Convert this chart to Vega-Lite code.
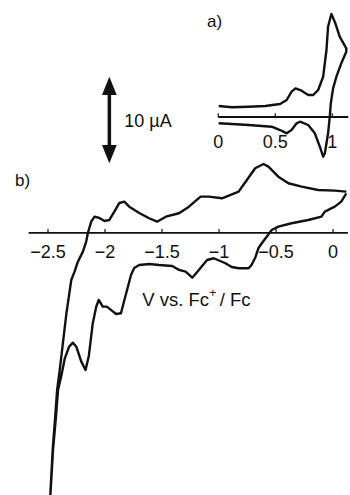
{
  "$schema": "https://vega.github.io/schema/vega-lite/v6.json",
  "width": 350,
  "height": 495,
  "autosize": {"type": "fit", "contains": "padding"},
  "padding": 0,
  "background": "white",
  "config": {"view": {"stroke": null}, "text": {"font": "Liberation Sans", "fontSize": 18, "color": "#111"}},
  "datasets": {
    "main": [
      {"i":1,"v":0.116,"cur":4.616},{"i":2,"v":0.072,"cur":3.640},{"i":3,"v":0.015,"cur":3.058},{"i":4,"v":-0.072,"cur":2.477},
      {"i":5,"v":-0.102,"cur":1.895},{"i":6,"v":-0.218,"cur":1.512},{"i":7,"v":-0.364,"cur":1.128},{"i":8,"v":-0.480,"cur":0.733},
      {"i":9,"v":-0.538,"cur":0.349},{"i":10,"v":-0.582,"cur":-0.430},{"i":11,"v":-0.625,"cur":-1.198},{"i":12,"v":-0.654,"cur":-1.744},
      {"i":13,"v":-0.680,"cur":-2.791},{"i":14,"v":-0.715,"cur":-3.721},{"i":15,"v":-0.741,"cur":-4.105},{"i":16,"v":-0.828,"cur":-4.105},
      {"i":17,"v":-0.889,"cur":-3.953},{"i":18,"v":-0.944,"cur":-3.523},{"i":19,"v":-1.046,"cur":-2.942},{"i":20,"v":-1.105,"cur":-3.140},
      {"i":21,"v":-1.177,"cur":-4.302},{"i":22,"v":-1.235,"cur":-5.198},{"i":23,"v":-1.293,"cur":-4.500},{"i":24,"v":-1.351,"cur":-4.302},
      {"i":25,"v":-1.410,"cur":-3.837},{"i":26,"v":-1.526,"cur":-3.721},{"i":27,"v":-1.613,"cur":-3.605},{"i":28,"v":-1.700,"cur":-3.721},
      {"i":29,"v":-1.744,"cur":-4.070},{"i":30,"v":-1.772,"cur":-4.884},{"i":31,"v":-1.802,"cur":-6.395},{"i":32,"v":-1.837,"cur":-8.140},
      {"i":33,"v":-1.860,"cur":-9.337},{"i":34,"v":-1.903,"cur":-9.419},{"i":35,"v":-1.940,"cur":-9.030},{"i":36,"v":-1.984,"cur":-8.570},
      {"i":37,"v":-2.020,"cur":-8.570},{"i":38,"v":-2.055,"cur":-7.791},{"i":39,"v":-2.077,"cur":-8.570},{"i":40,"v":-2.107,"cur":-10.465},
      {"i":41,"v":-2.142,"cur":-14.302},{"i":42,"v":-2.171,"cur":-15.930},{"i":43,"v":-2.208,"cur":-14.965},{"i":44,"v":-2.252,"cur":-13.221},
      {"i":45,"v":-2.281,"cur":-12.756},{"i":46,"v":-2.315,"cur":-13.221},{"i":47,"v":-2.354,"cur":-14.651},{"i":48,"v":-2.383,"cur":-16.593},
      {"i":49,"v":-2.412,"cur":-18.256},{"i":50,"v":-2.430,"cur":-21.360},{"i":51,"v":-2.456,"cur":-25.233},{"i":52,"v":-2.479,"cur":-30.465},
      {"i":53,"v":-2.482,"cur":-31.0},{"i":54,"v":-2.459,"cur":-25.233},{"i":55,"v":-2.437,"cur":-21.395},{"i":56,"v":-2.420,"cur":-18.256},
      {"i":57,"v":-2.397,"cur":-15.930},{"i":58,"v":-2.369,"cur":-12.791},{"i":59,"v":-2.338,"cur":-9.302},{"i":60,"v":-2.317,"cur":-7.395},
      {"i":61,"v":-2.296,"cur":-5.465},{"i":62,"v":-2.267,"cur":-4.500},{"i":63,"v":-2.238,"cur":-3.337},{"i":64,"v":-2.194,"cur":-2.174},
      {"i":65,"v":-2.165,"cur":-1.012},{"i":66,"v":-2.151,"cur":-0.035},{"i":67,"v":-2.121,"cur":1.314},{"i":68,"v":-2.092,"cur":1.895},
      {"i":69,"v":-2.049,"cur":1.744},{"i":70,"v":-2.005,"cur":1.395},{"i":71,"v":-1.962,"cur":1.512},{"i":72,"v":-1.918,"cur":2.477},
      {"i":73,"v":-1.874,"cur":3.488},{"i":74,"v":-1.831,"cur":3.640},{"i":75,"v":-1.787,"cur":3.058},{"i":76,"v":-1.700,"cur":2.326},
      {"i":77,"v":-1.613,"cur":1.709},{"i":78,"v":-1.543,"cur":1.314},{"i":79,"v":-1.467,"cur":1.895},{"i":80,"v":-1.351,"cur":2.291},
      {"i":81,"v":-1.264,"cur":3.058},{"i":82,"v":-1.162,"cur":4.221},{"i":83,"v":-1.090,"cur":4.221},{"i":84,"v":-0.974,"cur":4.035},
      {"i":85,"v":-0.828,"cur":4.802},{"i":86,"v":-0.756,"cur":6.163},{"i":87,"v":-0.683,"cur":7.523},{"i":88,"v":-0.610,"cur":8.023},
      {"i":89,"v":-0.567,"cur":7.709},{"i":90,"v":-0.480,"cur":6.547},{"i":91,"v":-0.392,"cur":5.779},{"i":92,"v":-0.276,"cur":5.384},
      {"i":93,"v":-0.131,"cur":5.000},{"i":94,"v":0.015,"cur":4.919},{"i":95,"v":0.116,"cur":4.802}
    ],
    "inset": [
      {"i":1,"v":0.004,"cur":1.279},{"i":2,"v":0.120,"cur":1.128},{"i":3,"v":0.266,"cur":1.198},{"i":4,"v":0.412,"cur":1.279},
      {"i":5,"v":0.542,"cur":1.512},{"i":6,"v":0.600,"cur":1.977},{"i":7,"v":0.643,"cur":2.942},{"i":8,"v":0.678,"cur":3.337},
      {"i":9,"v":0.731,"cur":3.058},{"i":10,"v":0.789,"cur":2.558},{"i":11,"v":0.833,"cur":2.558},{"i":12,"v":0.876,"cur":3.140},
      {"i":13,"v":0.920,"cur":4.686},{"i":14,"v":0.949,"cur":7.791},{"i":15,"v":0.963,"cur":10.500},{"i":16,"v":0.992,"cur":11.977},
      {"i":17,"v":1.027,"cur":10.895},{"i":18,"v":1.065,"cur":9.337},{"i":19,"v":1.123,"cur":7.988},{"i":20,"v":1.123,"cur":7.593},
      {"i":21,"v":1.079,"cur":6.244},{"i":22,"v":1.036,"cur":4.686},{"i":23,"v":1.007,"cur":3.337},{"i":24,"v":0.987,"cur":1.593},
      {"i":25,"v":0.978,"cur":0.035},{"i":26,"v":0.963,"cur":-1.895},{"i":27,"v":0.935,"cur":-4.221},{"i":28,"v":0.920,"cur":-4.616},
      {"i":29,"v":0.891,"cur":-3.453},{"i":30,"v":0.847,"cur":-1.895},{"i":31,"v":0.789,"cur":-0.930},{"i":32,"v":0.717,"cur":-0.547},
      {"i":33,"v":0.687,"cur":-0.733},{"i":34,"v":0.643,"cur":-1.512},{"i":35,"v":0.600,"cur":-1.895},{"i":36,"v":0.542,"cur":-1.512},
      {"i":37,"v":0.469,"cur":-1.128},{"i":38,"v":0.266,"cur":-0.930},{"i":39,"v":0.120,"cur":-0.814},{"i":40,"v":0.004,"cur":-0.733}
    ],
    "mainTicks": [
      {"v":-2.5,"label":"−2.5"},{"v":-2,"label":"−2"},{"v":-1.5,"label":"−1.5"},{"v":-1,"label":"−1"},{"v":-0.5,"label":"−0.5"},{"v":0,"label":"0"}
    ],
    "insetTicks": [
      {"v":0,"label":"0"},{"v":0.5,"label":"0.5"},{"v":1,"label":"1"}
    ],
    "mainNotes": [
      {"v":-2.790,"cur":5.465,"t":"b)"}
    ],
    "scaleNote": [
      {"v":-1.831,"cur":12.29,"t":"10 µA"}
    ],
    "titleParts": [
      {"v":-1.674,"cur":-8.49,"t":"V vs. Fc"},
      {"v":-0.994,"cur":-8.49,"t":"/ Fc"}
    ],
    "arrow": [
      {"v":-1.962,"cur":18.17,"end":"top"},
      {"v":-1.962,"cur":8.10,"end":"bottom"}
    ]
  },
  "layer": [
    {
      "layer": [
        {
          "data": {"values": [{}]},
          "mark": {"type": "rule", "stroke": "#111", "strokeWidth": 1.8},
          "encoding": {
            "x": {"datum": -2.67, "type": "quantitative", "scale": {"domain": [-2.921, 0.131], "nice": false, "zero": false}, "axis": null},
            "x2": {"datum": 0.13},
            "y": {"datum": 0, "type": "quantitative", "scale": {"domain": [-30.47, 27.09], "nice": false, "zero": false}, "axis": null}
          }
        },
        {
          "data": {"name": "mainTicks"},
          "mark": {"type": "rule", "stroke": "#111", "strokeWidth": 1.2},
          "encoding": {
            "x": {"field": "v", "type": "quantitative", "scale": {"domain": [-2.921, 0.131], "nice": false, "zero": false}, "axis": null},
            "y": {"datum": 0, "type": "quantitative", "scale": {"domain": [-30.47, 27.09], "nice": false, "zero": false}, "axis": null},
            "y2": {"datum": 0.45}
          }
        },
        {
          "data": {"name": "mainTicks"},
          "mark": {"type": "text", "align": "center", "baseline": "alphabetic", "fontSize": 18},
          "encoding": {
            "x": {"field": "v", "type": "quantitative", "scale": {"domain": [-2.921, 0.131], "nice": false, "zero": false}, "axis": null},
            "y": {"datum": -2.907, "type": "quantitative", "scale": {"domain": [-30.47, 27.09], "nice": false, "zero": false}, "axis": null},
            "text": {"field": "label"}
          }
        },
        {
          "data": {"name": "main"},
          "mark": {"type": "line", "stroke": "#111", "strokeWidth": 2.4, "clip": true, "strokeJoin": "round"},
          "encoding": {
            "x": {"field": "v", "type": "quantitative", "scale": {"domain": [-2.921, 0.131], "nice": false, "zero": false}, "axis": null},
            "y": {"field": "cur", "type": "quantitative", "scale": {"domain": [-30.47, 27.09], "nice": false, "zero": false}, "axis": null},
            "order": {"field": "i", "type": "quantitative"}
          }
        },
        {
          "data": {"name": "mainNotes"},
          "mark": {"type": "text", "align": "left", "baseline": "alphabetic", "fontSize": 17},
          "encoding": {
            "x": {"field": "v", "type": "quantitative", "scale": {"domain": [-2.921, 0.131], "nice": false, "zero": false}, "axis": null},
            "y": {"field": "cur", "type": "quantitative", "scale": {"domain": [-30.47, 27.09], "nice": false, "zero": false}, "axis": null},
            "text": {"field": "t"}
          }
        },
        {
          "data": {"name": "scaleNote"},
          "mark": {"type": "text", "align": "left", "baseline": "alphabetic", "fontSize": 18},
          "encoding": {
            "x": {"field": "v", "type": "quantitative", "scale": {"domain": [-2.921, 0.131], "nice": false, "zero": false}, "axis": null},
            "y": {"field": "cur", "type": "quantitative", "scale": {"domain": [-30.47, 27.09], "nice": false, "zero": false}, "axis": null},
            "text": {"field": "t"}
          }
        },
        {
          "data": {"name": "titleParts"},
          "mark": {"type": "text", "align": "left", "baseline": "alphabetic", "fontSize": 18.5},
          "encoding": {
            "x": {"field": "v", "type": "quantitative", "scale": {"domain": [-2.921, 0.131], "nice": false, "zero": false}, "axis": null},
            "y": {"field": "cur", "type": "quantitative", "scale": {"domain": [-30.47, 27.09], "nice": false, "zero": false}, "axis": null},
            "text": {"field": "t"}
          }
        },
        {
          "data": {"values": [{"t": "+"}]},
          "mark": {"type": "text", "align": "left", "baseline": "alphabetic", "fontSize": 12},
          "encoding": {
            "x": {"datum": -1.085, "type": "quantitative", "scale": {"domain": [-2.921, 0.131], "nice": false, "zero": false}, "axis": null},
            "y": {"datum": -7.5, "type": "quantitative", "scale": {"domain": [-30.47, 27.09], "nice": false, "zero": false}, "axis": null},
            "text": {"field": "t"}
          }
        },
        {
          "data": {"values": [{}]},
          "mark": {"type": "rule", "stroke": "#111", "strokeWidth": 3.5},
          "encoding": {
            "x": {"datum": -1.962, "type": "quantitative", "scale": {"domain": [-2.921, 0.131], "nice": false, "zero": false}, "axis": null},
            "y": {"datum": 9.0, "type": "quantitative", "scale": {"domain": [-30.47, 27.09], "nice": false, "zero": false}, "axis": null},
            "y2": {"datum": 17.3}
          }
        },
        {
          "data": {"name": "arrow"},
          "mark": {"type": "point", "filled": true, "color": "#111", "opacity": 1, "size": 400},
          "encoding": {
            "x": {"field": "v", "type": "quantitative", "scale": {"domain": [-2.921, 0.131], "nice": false, "zero": false}, "axis": null},
            "y": {"field": "cur", "type": "quantitative", "scale": {"domain": [-30.47, 27.09], "nice": false, "zero": false}, "axis": null},
            "shape": {
              "field": "end", "type": "nominal", "legend": null,
              "scale": {"domain": ["top", "bottom"], "range": ["M0,0L0.74,1.83L-0.74,1.83Z", "M0,0L0.74,-1.83L-0.74,-1.83Z"]}
            }
          }
        }
      ]
    },
    {
      "layer": [
        {
          "data": {"values": [{}]},
          "mark": {"type": "rule", "stroke": "#111", "strokeWidth": 1.8},
          "encoding": {
            "x": {"datum": 0, "type": "quantitative", "scale": {"domain": [-1.9137, 1.1378], "nice": false, "zero": false}, "axis": null},
            "x2": {"datum": 1.14},
            "y": {"datum": 0, "type": "quantitative", "scale": {"domain": [-43.95, 13.605], "nice": false, "zero": false}, "axis": null}
          }
        },
        {
          "data": {"name": "insetTicks"},
          "mark": {"type": "rule", "stroke": "#111", "strokeWidth": 1.2},
          "encoding": {
            "x": {"field": "v", "type": "quantitative", "scale": {"domain": [-1.9137, 1.1378], "nice": false, "zero": false}, "axis": null},
            "y": {"datum": 0, "type": "quantitative", "scale": {"domain": [-43.95, 13.605], "nice": false, "zero": false}, "axis": null},
            "y2": {"datum": 0.45}
          }
        },
        {
          "data": {"name": "insetTicks"},
          "mark": {"type": "text", "align": "center", "baseline": "alphabetic", "fontSize": 18},
          "encoding": {
            "x": {"field": "v", "type": "quantitative", "scale": {"domain": [-1.9137, 1.1378], "nice": false, "zero": false}, "axis": null},
            "y": {"datum": -3.6, "type": "quantitative", "scale": {"domain": [-43.95, 13.605], "nice": false, "zero": false}, "axis": null},
            "text": {"field": "label"}
          }
        },
        {
          "data": {"name": "inset"},
          "mark": {"type": "line", "stroke": "#111", "strokeWidth": 2.4, "clip": true, "strokeJoin": "round"},
          "encoding": {
            "x": {"field": "v", "type": "quantitative", "scale": {"domain": [-1.9137, 1.1378], "nice": false, "zero": false}, "axis": null},
            "y": {"field": "cur", "type": "quantitative", "scale": {"domain": [-43.95, 13.605], "nice": false, "zero": false}, "axis": null},
            "order": {"field": "i", "type": "quantitative"}
          }
        },
        {
          "data": {"values": [{"t": "a)"}]},
          "mark": {"type": "text", "align": "left", "baseline": "alphabetic", "fontSize": 17},
          "encoding": {
            "x": {"datum": -0.098, "type": "quantitative", "scale": {"domain": [-1.9137, 1.1378], "nice": false, "zero": false}, "axis": null},
            "y": {"datum": 10.41, "type": "quantitative", "scale": {"domain": [-43.95, 13.605], "nice": false, "zero": false}, "axis": null},
            "text": {"field": "t"}
          }
        }
      ]
    }
  ],
  "resolve": {"scale": {"x": "independent", "y": "independent"}}
}
